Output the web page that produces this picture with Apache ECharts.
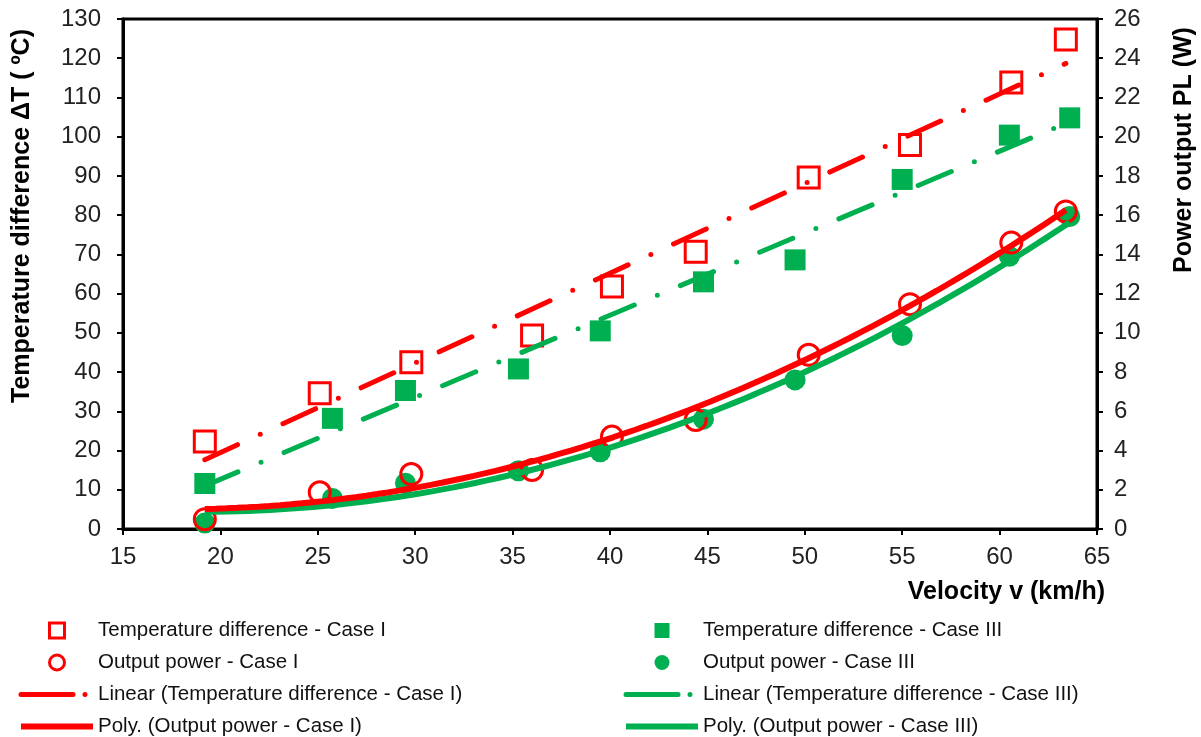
<!DOCTYPE html>
<html>
<head>
<meta charset="utf-8">
<script src="https://cdn.jsdelivr.net/npm/echarts@6/dist/echarts.min.js"></script>
<style>
  html, body { margin: 0; padding: 0; background: #fff; }
  #main { width: 1201px; height: 737px; }
</style>
</head>
<body>
<div id="main"></div>
<script>
// values
const velocityI = [19.2, 25.1, 29.8, 36.0, 40.1, 44.4, 50.2, 55.4, 60.6, 63.4];
const tempDiffI = [22.3, 34.6, 42.5, 49.3, 61.8, 70.7, 89.6, 97.9, 113.8, 124.8];
const powerI = [0.5, 1.87, 2.8, 3.01, 4.71, 5.56, 8.88, 11.46, 14.6, 16.19];

const velocityIII = [19.2, 25.75, 29.5, 35.3, 39.5, 44.8, 49.5, 55.0, 60.5, 63.6];
const tempDiffIII = [11.6, 28.2, 35.3, 40.8, 50.5, 63.0, 68.6, 89.1, 100.4, 104.8];
const powerIII = [0.3, 1.56, 2.33, 2.97, 3.94, 5.6, 7.6, 9.86, 13.9, 15.93];

const xTicks = { min: 15, max: 65, step: 5 };
const leftTicks = { min: 0, max: 130, step: 10 };
const rightTicks = { min: 0, max: 26, step: 2 };

const RED = "#ff0000";
const GREEN = "#00b050";
const FONT = "'Liberation Sans', Arial, sans-serif";
const SQUARE = "path://M0,0H10V10H0Z";

// trendlines like excel: least squares on the points
function linFit(xs, ys) {
  const n = xs.length;
  let sx = 0, sy = 0, sxx = 0, sxy = 0;
  for (let i = 0; i < n; i++) {
    sx += xs[i]; sy += ys[i]; sxx += xs[i] * xs[i]; sxy += xs[i] * ys[i];
  }
  const b = (n * sxy - sx * sy) / (n * sxx - sx * sx);
  const a = (sy - b * sx) / n;
  return (x) => a + b * x;
}

function quadFit(xs, ys) {
  // normal equations for y = c0 + c1 x + c2 x^2
  const S = [0, 0, 0, 0, 0], T = [0, 0, 0];
  for (let i = 0; i < xs.length; i++) {
    let p = 1;
    for (let k = 0; k < 5; k++) { S[k] += p; if (k < 3) T[k] += p * ys[i]; p *= xs[i]; }
  }
  const M = [
    [S[0], S[1], S[2], T[0]],
    [S[1], S[2], S[3], T[1]],
    [S[2], S[3], S[4], T[2]],
  ];
  for (let c = 0; c < 3; c++) {
    for (let r = c + 1; r < 3; r++) {
      const f = M[r][c] / M[c][c];
      for (let k = c; k < 4; k++) M[r][k] -= f * M[c][k];
    }
  }
  const co = [0, 0, 0];
  for (let r = 2; r >= 0; r--) {
    let s = M[r][3];
    for (let k = r + 1; k < 3; k++) s -= M[r][k] * co[k];
    co[r] = s / M[r][r];
  }
  return (x) => co[0] + co[1] * x + co[2] * x * x;
}

function lineData(xs, f) {
  const x0 = Math.min(...xs), x1 = Math.max(...xs);
  return [[x0, f(x0)], [x1, f(x1)]];
}

function curveData(xs, f) {
  const x0 = Math.min(...xs), x1 = Math.max(...xs);
  const out = [];
  for (let i = 0; i <= 80; i++) {
    const x = x0 + (x1 - x0) * i / 80;
    out.push([x, f(x)]);
  }
  return out;
}

const zip = (a, b) => a.map((v, i) => [v, b[i]]);

const chart = echarts.init(document.getElementById("main"), null, { renderer: "canvas" });

const axisLine = { show: true, lineStyle: { color: "#000", width: 3 } };
const axisTick = { show: true, length: 6, lineStyle: { color: "#000", width: 2 } };
const axisLabel = { color: "#222", fontSize: 24, fontFamily: FONT };
const dashDot = [36, 25, 0, 25];
const hollow = (c) => ({ color: "#fff", borderColor: c, borderWidth: 3, opacity: 1 });
const filled = (c) => ({ color: c, opacity: 1 });

function legendBlock(left, names, color, hollowMarks) {
  const mark = hollowMarks ? hollow(color) : filled(color);
  return {
    left: left, top: 620, orient: "vertical", padding: 0,
    itemWidth: 72, itemHeight: 15, itemGap: 11,
    textStyle: { fontSize: 20.5, fontFamily: FONT, color: "#111", lineHeight: 20 },
    data: [
      { name: names[0], icon: SQUARE, itemStyle: mark },
      { name: names[1], icon: "circle", itemStyle: mark },
      {
        name: names[2], itemStyle: { opacity: 0 },
        lineStyle: { color: color, width: 5, type: [52, 12, 0, 12], cap: "round" },
      },
      {
        name: names[3], itemStyle: { opacity: 0 },
        lineStyle: { color: color, width: 6, type: "solid" },
      },
    ],
  };
}

const option = {
  animation: false,
  backgroundColor: "#fff",
  grid: {
    left: 123, right: 104, top: 19, bottom: 208,
    show: true, borderColor: "#000", borderWidth: 3,
  },
  xAxis: {
    type: "value",
    min: xTicks.min, max: xTicks.max, interval: xTicks.step,
    axisLine, axisTick,
    axisLabel: Object.assign({ margin: 16 }, axisLabel),
    splitLine: { show: false },
  },
  yAxis: [
    {
      type: "value",
      min: leftTicks.min, max: leftTicks.max, interval: leftTicks.step,
      axisLine, axisTick,
      axisLabel: Object.assign({ margin: 22 }, axisLabel),
      splitLine: { show: false },
    },
    {
      type: "value", position: "right",
      min: rightTicks.min, max: rightTicks.max, interval: rightTicks.step,
      axisLine, axisTick,
      axisLabel: Object.assign({ margin: 17 }, axisLabel),
      splitLine: { show: false },
    },
  ],
  legend: [
    legendBlock(18, [
      "Temperature difference - Case I",
      "Output power - Case I",
      "Linear (Temperature difference - Case I)",
      "Poly. (Output power - Case I)",
    ], RED, true),
    legendBlock(623, [
      "Temperature difference - Case III",
      "Output power - Case III",
      "Linear (Temperature difference - Case III)",
      "Poly. (Output power - Case III)",
    ], GREEN, false),
  ],
  graphic: [
    {
      type: "text", x: 22, y: 216, rotation: Math.PI / 2,
      style: {
        text: "Temperature difference ΔT ( ºC)", font: "bold 25px " + FONT,
        fill: "#000", textAlign: "center", textVerticalAlign: "middle",
      },
    },
    {
      type: "text", x: 1184, y: 150, rotation: Math.PI / 2,
      style: {
        text: "Power output PL (W)", font: "bold 25px " + FONT,
        fill: "#000", textAlign: "center", textVerticalAlign: "middle",
      },
    },
    {
      type: "text", x: 1105, y: 592,
      style: {
        text: "Velocity v (km/h)", font: "bold 25px " + FONT,
        fill: "#000", textAlign: "right", textVerticalAlign: "middle",
      },
    },
  ],
  series: [
    // case III first so case I sits on top
    {
      name: "Linear (Temperature difference - Case III)", type: "line", yAxisIndex: 0,
      data: lineData(velocityIII, linFit(velocityIII, tempDiffIII)),
      showSymbol: false, symbol: "none",
      lineStyle: { color: GREEN, width: 5, type: dashDot, cap: "round" },
      itemStyle: { color: GREEN },
    },
    {
      name: "Poly. (Output power - Case III)", type: "line", yAxisIndex: 1,
      data: curveData(velocityIII, quadFit(velocityIII, powerIII)),
      showSymbol: false, symbol: "none",
      lineStyle: { color: GREEN, width: 6 },
      itemStyle: { color: GREEN },
    },
    {
      name: "Temperature difference - Case III", type: "scatter", yAxisIndex: 0,
      data: zip(velocityIII, tempDiffIII),
      symbol: "rect", symbolSize: 21,
      itemStyle: filled(GREEN),
    },
    {
      name: "Output power - Case III", type: "scatter", yAxisIndex: 1,
      data: zip(velocityIII, powerIII),
      symbol: "circle", symbolSize: 21,
      itemStyle: filled(GREEN),
    },
    {
      name: "Linear (Temperature difference - Case I)", type: "line", yAxisIndex: 0,
      data: lineData(velocityI, linFit(velocityI, tempDiffI)),
      showSymbol: false, symbol: "none",
      lineStyle: { color: RED, width: 5, type: dashDot, cap: "round" },
      itemStyle: { color: RED },
    },
    {
      name: "Poly. (Output power - Case I)", type: "line", yAxisIndex: 1,
      data: curveData(velocityI, quadFit(velocityI, powerI)),
      showSymbol: false, symbol: "none",
      lineStyle: { color: RED, width: 6 },
      itemStyle: { color: RED },
    },
    {
      name: "Temperature difference - Case I", type: "scatter", yAxisIndex: 0,
      data: zip(velocityI, tempDiffI),
      symbol: "rect", symbolSize: 21,
      itemStyle: { color: "rgba(255,255,255,0)", borderColor: RED, borderWidth: 3, opacity: 1 },
    },
    {
      name: "Output power - Case I", type: "scatter", yAxisIndex: 1,
      data: zip(velocityI, powerI),
      symbol: "circle", symbolSize: 21,
      itemStyle: { color: "rgba(255,255,255,0)", borderColor: RED, borderWidth: 3, opacity: 1 },
    },
  ],
};

chart.setOption(option);
</script>
</body>
</html>
